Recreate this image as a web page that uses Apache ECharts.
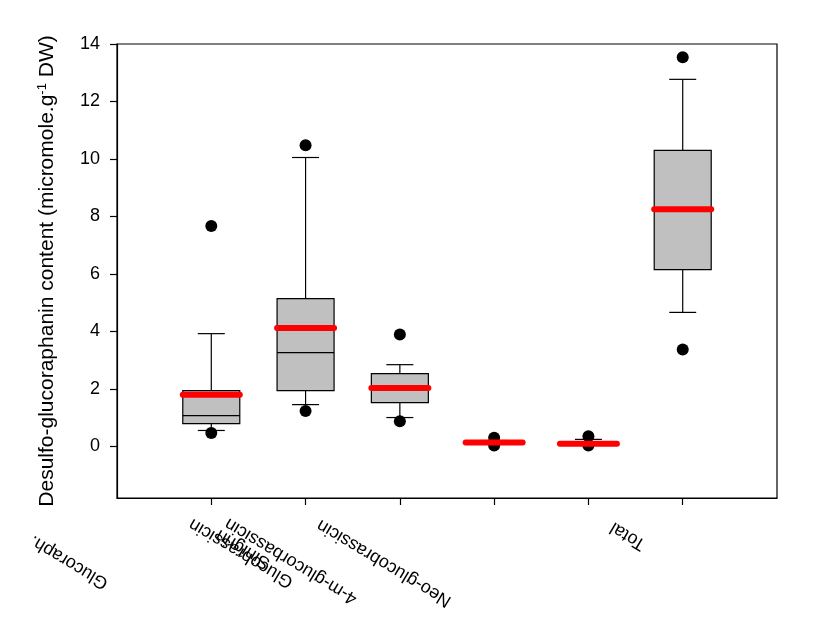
<!DOCTYPE html>
<html>
<head>
<meta charset="utf-8">
<script src="https://cdn.jsdelivr.net/npm/echarts@6/dist/echarts.min.js"></script>
<style>html,body{margin:0;padding:0;background:#fff}#c{width:835px;height:618px}</style>
</head>
<body>
<div id="c"></div>
<script>
// ---- data ----
var categories = ['', 'Glucoraphanin', 'Sinigrin', 'Glucobrassicin', '4-m-glucorbassicin', 'Neo-glucobrassicin', 'Total', ''];
var labelTexts = ['Glucoraph.', 'Sinigrin', 'Glucobrassicin', '4-m-glucorbassicin', 'Neo-glucobrassicin', 'Total'];
// [category, lowerWhisker, q1, median, q3, upperWhisker]
var boxData = [
  ['Glucoraphanin', 0.55, 0.79, 1.07, 1.94, 3.92],
  ['Sinigrin', 1.45, 1.94, 3.26, 5.14, 10.05],
  ['Glucobrassicin', 1.00, 1.52, 2.03, 2.53, 2.84],
  ['4-m-glucorbassicin', 0.08, 0.10, 0.13, 0.16, 0.20],
  ['Neo-glucobrassicin', 0.05, 0.07, 0.09, 0.14, 0.24],
  ['Total', 4.66, 6.15, 8.25, 10.30, 12.77]
];
var meanData = [
  ['Glucoraphanin', 1.79],
  ['Sinigrin', 4.12],
  ['Glucobrassicin', 2.03],
  ['4-m-glucorbassicin', 0.13],
  ['Neo-glucobrassicin', 0.09],
  ['Total', 8.25]
];
var outlierData = [
  ['Glucoraphanin', 7.67], ['Glucoraphanin', 0.46],
  ['Sinigrin', 10.48], ['Sinigrin', 1.23],
  ['Glucobrassicin', 3.89], ['Glucobrassicin', 0.87],
  ['4-m-glucorbassicin', 0.30], ['4-m-glucorbassicin', 0.03],
  ['Neo-glucobrassicin', 0.35], ['Neo-glucobrassicin', 0.03],
  ['Total', 13.54], ['Total', 3.37]
];
var yTicks = [0, 2, 4, 6, 8, 10, 12, 14];

// ---- layout (label placement) ----
var labelCenters = [[69, 562], [243, 549], [241, 553], [291, 561], [384, 563], [628, 536]];
var FONT = '"Liberation Sans", Arial, sans-serif';

var chart = echarts.init(document.getElementById('c'), null, {renderer: 'canvas'});

var graphics = labelTexts.map(function (t, i) {
  return {
    type: 'text',
    x: labelCenters[i][0],
    y: labelCenters[i][1],
    rotation: 149 * Math.PI / 180,
    style: {
      text: t,
      fill: '#000',
      font: '18px ' + FONT,
      align: 'center',
      verticalAlign: 'middle'
    },
    z: 10
  };
});

chart.setOption({
  animation: false,
  backgroundColor: '#fff',
  textStyle: {fontFamily: FONT},
  grid: {left: 117, right: 58, top: 44, bottom: 120, show: true, borderColor: '#000', borderWidth: 1.2, backgroundColor: 'transparent'},
  xAxis: {
    type: 'category',
    data: categories,
    boundaryGap: false,
    axisLine: {onZero: false, lineStyle: {color: '#000', width: 1.2}},
    axisTick: {
      length: 7,
      lineStyle: {color: '#000', width: 1.2},
      interval: function (idx) { return idx >= 1 && idx <= 6; }
    },
    axisLabel: {show: false},
    splitLine: {show: false}
  },
  yAxis: {
    type: 'value',
    min: -1.8,
    max: 14,
    name: 'Desulfo-glucoraphanin content (micromole.g{sup|-1} DW)',
    nameLocation: 'middle',
    nameGap: 58,
    nameTextStyle: {
      fontSize: 21, color: '#000', fontFamily: FONT,
      rich: {sup: {fontSize: 13, color: '#000', verticalAlign: 'top', padding: [0, 0, 10, 0], fontFamily: FONT}}
    },
    axisLine: {show: true, lineStyle: {color: '#000', width: 1.2}},
    axisTick: {show: true, length: 7, customValues: yTicks, lineStyle: {color: '#000', width: 1.2}},
    axisLabel: {customValues: yTicks, fontSize: 18, color: '#000', margin: 17, fontFamily: FONT},
    splitLine: {show: false}
  },
  graphic: graphics,
  series: [
    {
      type: 'custom',
      name: 'box',
      data: boxData,
      encode: {x: 0, y: [1, 2, 3, 4, 5]},
      z: 2,
      renderItem: function (params, api) {
        var xi = api.value(0);
        var lo = api.coord([xi, api.value(1)]);
        var q1 = api.coord([xi, api.value(2)]);
        var md = api.coord([xi, api.value(3)]);
        var q3 = api.coord([xi, api.value(4)]);
        var hi = api.coord([xi, api.value(5)]);
        var cx = lo[0];
        var hw = 28.5, cw = 13.5;
        var ls = {stroke: '#000', lineWidth: 1.2};
        return {
          type: 'group',
          children: [
            {type: 'line', shape: {x1: cx, y1: q3[1], x2: cx, y2: hi[1]}, style: ls},
            {type: 'line', shape: {x1: cx, y1: q1[1], x2: cx, y2: lo[1]}, style: ls},
            {type: 'line', shape: {x1: cx - cw, y1: hi[1], x2: cx + cw, y2: hi[1]}, style: ls},
            {type: 'line', shape: {x1: cx - cw, y1: lo[1], x2: cx + cw, y2: lo[1]}, style: ls},
            {type: 'rect', shape: {x: cx - hw, y: q3[1], width: hw * 2, height: q1[1] - q3[1]}, style: {fill: '#c0c0c0', stroke: '#000', lineWidth: 1.2}},
            {type: 'line', shape: {x1: cx - hw, y1: md[1], x2: cx + hw, y2: md[1]}, style: ls}
          ]
        };
      }
    },
    {
      type: 'scatter',
      name: 'outliers',
      data: outlierData,
      symbol: 'circle',
      symbolSize: 12,
      itemStyle: {color: '#000', opacity: 1},
      z: 3
    },
    {
      type: 'custom',
      name: 'mean',
      data: meanData,
      encode: {x: 0, y: 1},
      z: 4,
      renderItem: function (params, api) {
        var p = api.coord([api.value(0), api.value(1)]);
        return {
          type: 'line',
          shape: {x1: p[0] - 28.5, y1: p[1], x2: p[0] + 28.5, y2: p[1]},
          style: {stroke: '#ff0000', lineWidth: 6, lineCap: 'round'}
        };
      }
    }
  ]
});
</script>
</body>
</html>
